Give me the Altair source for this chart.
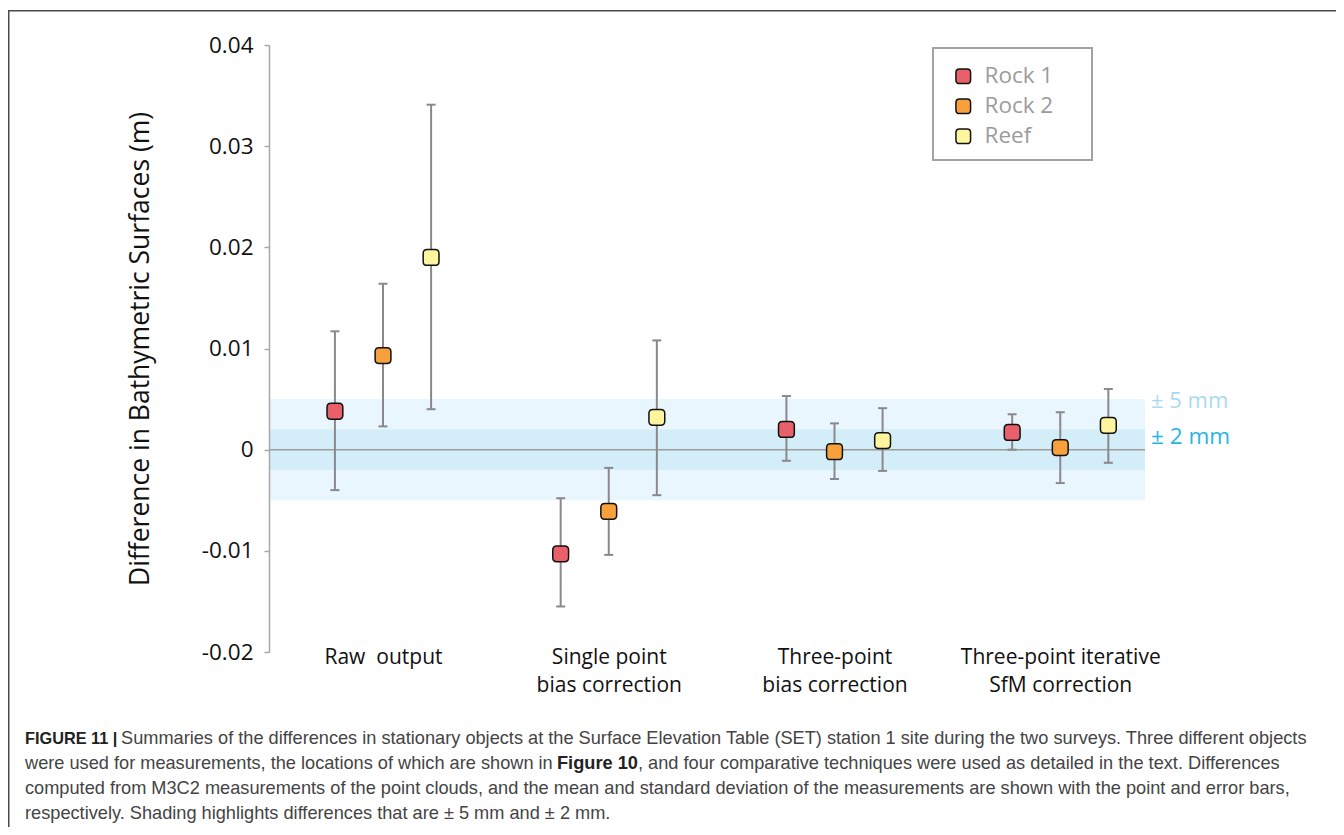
import json
import altair as alt
import pandas as pd

# ---------------- data ----------------
groups = ["Raw\u00a0 output", "Single point|bias correction",
          "Three-point|bias correction", "Three-point iterative|SfM correction"]
series = ["Rock 1", "Rock 2", "Reef"]
series_colors = ["#E8606A", "#F7A03C", "#FFF59E"]

rock1_mean = [0.0038, -0.0103, 0.0020, 0.0017]
rock1_low = [-0.0040, -0.0155, -0.0011, 0.0000]
rock1_high = [0.0117, -0.0048, 0.0053, 0.0035]

rock2_mean = [0.0093, -0.0061, -0.0002, 0.0002]
rock2_low = [0.0023, -0.0104, -0.0029, -0.0033]
rock2_high = [0.0164, -0.0018, 0.0026, 0.0037]

reef_mean = [0.0190, 0.0032, 0.0009, 0.0024]
reef_low = [0.0040, -0.0045, -0.0021, -0.0013]
reef_high = [0.0341, 0.0108, 0.0041, 0.0060]

y_ticks = [-0.02, -0.01, 0, 0.01, 0.02, 0.03, 0.04]
band_limits = [0.005, 0.002]
band_labels = ["± 5 mm", "± 2 mm"]

caption_lines = [
    ["FIGURE 11 |", "Summaries of the differences in stationary objects at the Surface Elevation Table (SET) station 1 site during the two surveys. Three different objects"],
    ["were used for measurements, the locations of which are shown in", "Figure 10", ", and four comparative techniques were used as detailed in the text. Differences"],
    ["computed from M3C2 measurements of the point clouds, and the mean and standard deviation of the measurements are shown with the point and error bars,"],
    ["respectively. Shading highlights differences that are ± 5 mm and ± 2 mm."],
]

# ---------------- table ----------------
means = [rock1_mean, rock2_mean, reef_mean]
lows = [rock1_low, rock2_low, reef_low]
highs = [rock1_high, rock2_high, reef_high]
rows = []
for gi, g in enumerate(groups):
    for si, s in enumerate(series):
        rows.append({"gi": gi, "si": si, "group": g, "series": s,
                     "mean": means[si][gi], "lo": lows[si][gi], "hi": highs[si][gi]})
df = pd.DataFrame(rows)

# ---------------- layout constants ----------------
W, H = 903, 607
OX, OY = 269, 45  # page position of plot origin
SHADE_W = 876
FONT = "Open Sans"
ROUND_SQ = ("M-0.5,-1 H0.5 Q1,-1 1,-0.5 V0.5 Q1,1 0.5,1 H-0.5 "
            "Q-1,1 -1,0.5 V-0.5 Q-1,-1 -0.5,-1 Z")

x_expr = "split(" + json.dumps(groups, ensure_ascii=False) + "[datum.value - 1], '|')"
xscale = alt.Scale(domain=[0.495, 4.495], nice=False, zero=False)
xaxis = alt.Axis(values=[1, 2, 3, 4], labelExpr=x_expr, title=None, domain=False,
                 ticks=False, tickSize=0, grid=False, labelFont=FONT, labelFontSize=21,
                 labelColor="#111111", labelBaseline="top", labelPadding=-6,
                 labelLineHeight=28, labelAngle=0, labelFlush=False, labelLimit=0,
                 labelOverlap=False, labelBound=False)
yscale = alt.Scale(domain=[-0.02, 0.04], nice=False, zero=False)
yaxis = alt.Axis(values=y_ticks,
                 labelExpr="datum.value == 0 ? '0' : (datum.value < 0 ? '-' : '') + format(abs(datum.value), '.2f')",
                 title="Difference in Bathymetric Surfaces (m)", grid=False,
                 domainColor="#a8a8a8", domainWidth=1.5, tickColor="#a8a8a8",
                 tickWidth=1.5, tickSize=5, labelFont=FONT, labelFontSize=22.5,
                 labelColor="#111111", labelPadding=11, titleFont=FONT,
                 titleFontSize=26.5, titleFontWeight="normal", titleColor="#111111",
                 titleX=-129, titleY=H / 2, titleAngle=270, titleAlign="center",
                 titleBaseline="middle", zindex=1)

X = alt.X("pos:Q", scale=xscale, axis=xaxis)


def Y(field):
    return alt.Y(field, type="quantitative", scale=yscale, axis=yaxis)


base = alt.Chart(df).transform_calculate(pos="datum.gi + 1 + (datum.si - 1) * 0.213")

# shaded tolerance bands
band_df = pd.DataFrame({"lim": band_limits, "label": band_labels})
band_df["lo"] = -band_df["lim"]
bands = [
    alt.Chart(band_df.iloc[[0]]).mark_rect(color="#EAF6FD").encode(
        x=alt.value(0), x2=alt.value(SHADE_W), y=Y("lo"), y2="lim:Q"),
    alt.Chart(band_df.iloc[[1]]).mark_rect(color="#D3EDF9").encode(
        x=alt.value(0), x2=alt.value(SHADE_W), y=Y("lo"), y2="lim:Q"),
]
zero = alt.Chart(band_df.iloc[[0]]).mark_rule(color="#9c9c9c", strokeWidth=1.5).encode(
    y=alt.datum(0), x=alt.value(0), x2=alt.value(SHADE_W))

band_text = [
    alt.Chart(band_df.iloc[[0]]).mark_text(align="left", baseline="middle", font=FONT,
                                           fontSize=22, color="#A9DAF2", dy=2).encode(
        x=alt.value(1151 - OX), y=Y("lim"), text="label:N"),
    alt.Chart(band_df.iloc[[1]]).mark_text(align="left", baseline="middle", font=FONT,
                                           fontSize=22.5, color="#2AB4E6", dy=8).encode(
        x=alt.value(1151 - OX), y=Y("lim"), text="label:N"),
]

bar_color = "#8b888d"
err = base.mark_rule(color=bar_color, strokeWidth=2).encode(x=X, y=Y("lo"), y2="hi:Q")
cap_lo = base.mark_tick(orient="horizontal", size=9, thickness=2, color=bar_color,
                        opacity=1).encode(x=X, y=Y("lo"))
cap_hi = base.mark_tick(orient="horizontal", size=9, thickness=2, color=bar_color,
                        opacity=1).encode(x=X, y=Y("hi"))

points = base.mark_point(shape=ROUND_SQ, filled=True, size=250, stroke="#111111",
                         strokeWidth=1.5, opacity=1, fillOpacity=1).encode(
    x=X, y=Y("mean"),
    fill=alt.Fill("series:N", scale=alt.Scale(domain=series, range=series_colors),
                  legend=alt.Legend(orient="none", legendX=949 - OX, legendY=65 - OY,
                                    title=None, padding=0, rowPadding=7,
                                    symbolType=ROUND_SQ, symbolSize=215,
                                    symbolStrokeColor="#111111", symbolStrokeWidth=1.5,
                                    symbolOpacity=1, symbolOffset=3, labelOffset=10,
                                    labelFont=FONT, labelFontSize=22.5,
                                    labelColor="#9b9b9b")),
)

# legend frame
legend_box = alt.Chart(pd.DataFrame({"a": [0]})).mark_rect(
    fill=None, stroke="#a3a3a3", strokeWidth=2).encode(
    x=alt.value(933 - OX), x2=alt.value(1092 - OX), y=alt.value(48 - OY),
    y2=alt.value(160 - OY))

# caption
CAP_FONT = "Liberation Sans"
CAP_SIZE = 18.2
cap_y = [744, 769, 794, 819]
cap_x = [[25, 121], [25, 557, 638], [25], [25]]
cap_bold = [[True, False], [False, True, False], [False], [False]]
caption = []
for li, segs in enumerate(caption_lines):
    for k, seg in enumerate(segs):
        bold = cap_bold[li][k]
        caption.append(
            alt.Chart(pd.DataFrame({"t": [seg]})).mark_text(
                align="left", baseline="alphabetic", font=CAP_FONT,
                fontSize=(16.3 if (li == 0 and bold) else CAP_SIZE),
                fontWeight="bold" if bold else "normal",
                color="#222222" if bold else "#444444").encode(
                text="t:N", x=alt.value(cap_x[li][k] - OX), y=alt.value(cap_y[li] - OY)))

frame_df = pd.DataFrame({"a": [0]})
frame = [
    alt.Chart(frame_df).mark_rule(color="#4a4a4a", strokeWidth=1.5).encode(
        x=alt.value(8.75 - OX), y=alt.value(10 - OY), y2=alt.value(827 - OY)),
    alt.Chart(frame_df).mark_rule(color="#4a4a4a", strokeWidth=1.5).encode(
        x=alt.value(8 - OX), x2=alt.value(1336 - OX), y=alt.value(10.75 - OY)),
]

chart = alt.layer(*bands, zero, err, cap_lo, cap_hi, points, legend_box, *band_text,
                  *caption, *frame).properties(
    width=W, height=H,
    autosize=alt.AutoSizeParams(type="none"),
    padding={"left": OX - 8, "top": OY - 8, "right": 1328 - (OX - 8) - W,
             "bottom": 819 - (OY - 8) - H},
    background="white",
).configure_view(stroke=None)

chart.save("out.html", embed_options={"renderer": "svg", "actions": False})
